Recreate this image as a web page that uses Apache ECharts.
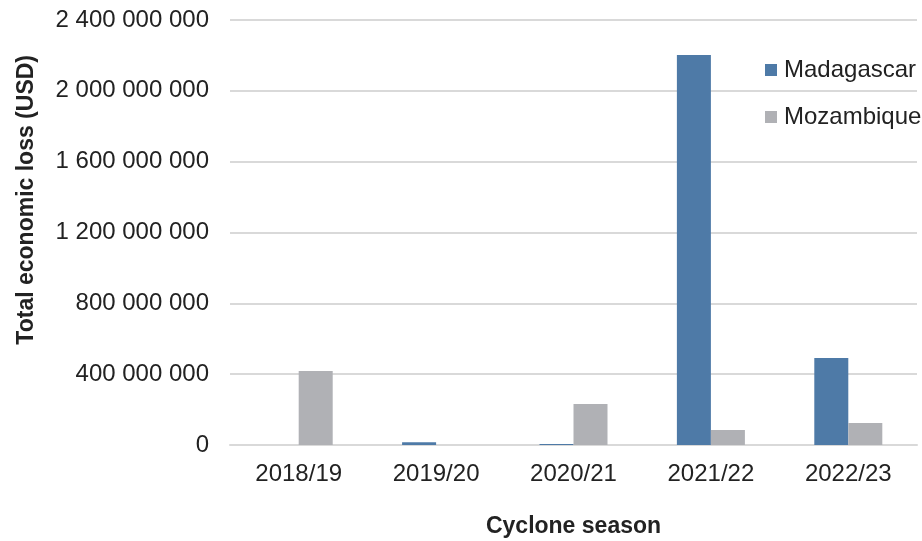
<!DOCTYPE html>
<html><head><meta charset="utf-8">
<script src="https://cdn.jsdelivr.net/npm/echarts@6/dist/echarts.min.js"></script>
<style>html,body{margin:0;padding:0;background:#fff}#c{width:922px;height:541px}</style>
</head><body><div id="c"></div>
<script>
const categories = ['2018/19','2019/20','2020/21','2021/22','2022/23'];
const madagascar = [0, 15000000, 5000000, 2202000000, 491000000];
const mozambique = [418000000, 0, 231000000, 85000000, 124000000];
const yTicks = [0, 400000000, 800000000, 1200000000, 1600000000, 2000000000, 2400000000];

const FONT = '"Liberation Sans", Arial, sans-serif';
function fmt(v){ return String(Math.round(v)).replace(/\B(?=(\d{3})+(?!\d))/g,' '); }

const chart = echarts.init(document.getElementById('c'));
chart.setOption({
  animation:false,
  textStyle:{fontFamily:FONT},
  grid:{left:230,right:5,top:20,bottom:96,containLabel:false,outerBoundsMode:'none'},
  legend:{
    orient:'vertical', left:765, top:58, itemGap:23, padding:0,
    icon:'rect', itemWidth:12, itemHeight:12,
    textStyle:{fontSize:24, color:'#222', fontFamily:FONT, padding:[0,0,0,2]},
    data:['Madagascar','Mozambique']
  },
  xAxis:{
    type:'category', data:categories,
    axisLine:{lineStyle:{color:'#d9d9d9', width:2}},
    axisTick:{show:false},
    axisLabel:{fontSize:24, color:'#222', margin:17, fontFamily:FONT},
    name:'Cyclone season', nameLocation:'middle', nameGap:70,
    nameTextStyle:{fontSize:23, fontWeight:'bold', color:'#222', fontFamily:FONT}
  },
  yAxis:{
    type:'value', min:yTicks[0], max:yTicks[yTicks.length-1], interval:400000000,
    axisLine:{show:false}, axisTick:{show:false},
    splitLine:{lineStyle:{color:'#d9d9d9', width:2}},
    axisLabel:{fontSize:24, color:'#222', margin:21, fontFamily:FONT, formatter:fmt}
  },
  graphic:[{
    type:'text', left:15, top:55, rotation:Math.PI/2,
    style:{text:'Total economic loss (USD)', font:'bold 23px '+FONT, fill:'#222'}
  }],
  series:[
    {name:'Madagascar', type:'bar', data:madagascar, barGap:'0%', barCategoryGap:'50.5%',
     itemStyle:{color:'#4e7aa7'}},
    {name:'Mozambique', type:'bar', data:mozambique, barGap:'0%', barCategoryGap:'50.5%',
     itemStyle:{color:'#b0b1b5'}}
  ]
});
</script></body></html>
